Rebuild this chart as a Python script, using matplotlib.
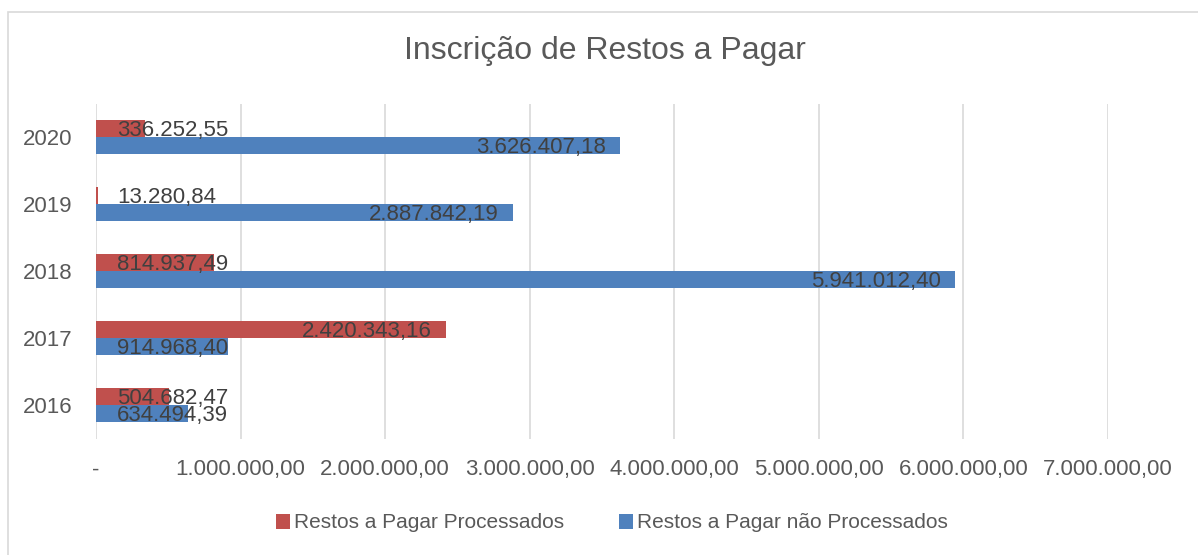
import matplotlib.pyplot as plt
from matplotlib.patches import Rectangle

anos = ['2016', '2017', '2018', '2019', '2020']
processados = [504682.47, 2420343.16, 814937.49, 13280.84, 336252.55]
nao_processados = [634494.39, 914968.40, 5941012.40, 2887842.19, 3626407.18]
xticks = [0, 1e6, 2e6, 3e6, 4e6, 5e6, 6e6, 7e6]

plt.rcParams['font.family'] = ['Liberation Sans', 'DejaVu Sans']

vermelho = '#c0504d'
azul = '#4f81bd'
cinza_txt = '#595959'
cinza_lbl = '#404040'


def br(v):
    s = f'{v:,.2f}'
    return s.replace(',', 'X').replace('.', ',').replace('X', '.')


fig = plt.figure(figsize=(11.98, 5.55), dpi=100)
fig.patches.append(Rectangle((8 / 1198, -0.1), 1.2, 1.1 - 12 / 555,
                             transform=fig.transFigure, fill=False,
                             edgecolor='#d9d9d9', lw=1.2))
ax = fig.add_axes([96 / 1198, 116.5 / 555, 1012 / 1198, 335 / 555])

y = list(range(len(anos)))
h = 0.26
ax.barh([i + h / 2 for i in y], processados, height=h, color=vermelho,
        label='Restos a Pagar Processados', zorder=3)
ax.barh([i - h / 2 for i in y], nao_processados, height=h, color=azul,
        label='Restos a Pagar não Processados', zorder=3)

# rótulos de dados (dentro da ponta, ou na base se não couber)
for serie, off in ((processados, h / 2), (nao_processados, -h / 2)):
    for i, v in enumerate(serie):
        if v > 1.05e6:
            ax.text(v - 0.1e6, i + off - 0.03, br(v), ha='right', va='center',
                    fontsize=16, color=cinza_lbl, zorder=4)
        else:
            ax.text(0.145e6, i + off - 0.03, br(v), ha='left', va='center',
                    fontsize=16, color=cinza_lbl, zorder=4)

ax.set_xlim(0, 7e6)
ax.set_ylim(-0.5, 4.5)
ax.set_yticks(y)
ax.set_yticklabels(anos, fontsize=16, color=cinza_txt)
ax.set_xticks(xticks)
ax.set_xticklabels(['-'] + [br(v) for v in xticks[1:]], fontsize=16, color=cinza_txt)
ax.tick_params(axis='x', length=0, pad=15)
ax.tick_params(axis='y', length=0, pad=17)
ax.grid(axis='x', color='#d9d9d9', lw=1.2, zorder=0)
for s in ax.spines.values():
    s.set_visible(False)

fig.text(605 / 1198, 1 - 51 / 555, 'Inscrição de Restos a Pagar', ha='center',
         va='center', fontsize=23, color=cinza_txt)

fig.legend(loc='center', bbox_to_anchor=(612 / 1198, 1 - 523 / 555), ncol=2,
           frameon=False, fontsize=15, handlelength=0.7, handleheight=0.7,
           handletextpad=0.2, columnspacing=2.6, labelcolor=cinza_txt)

fig.savefig('out.png', dpi=100)
